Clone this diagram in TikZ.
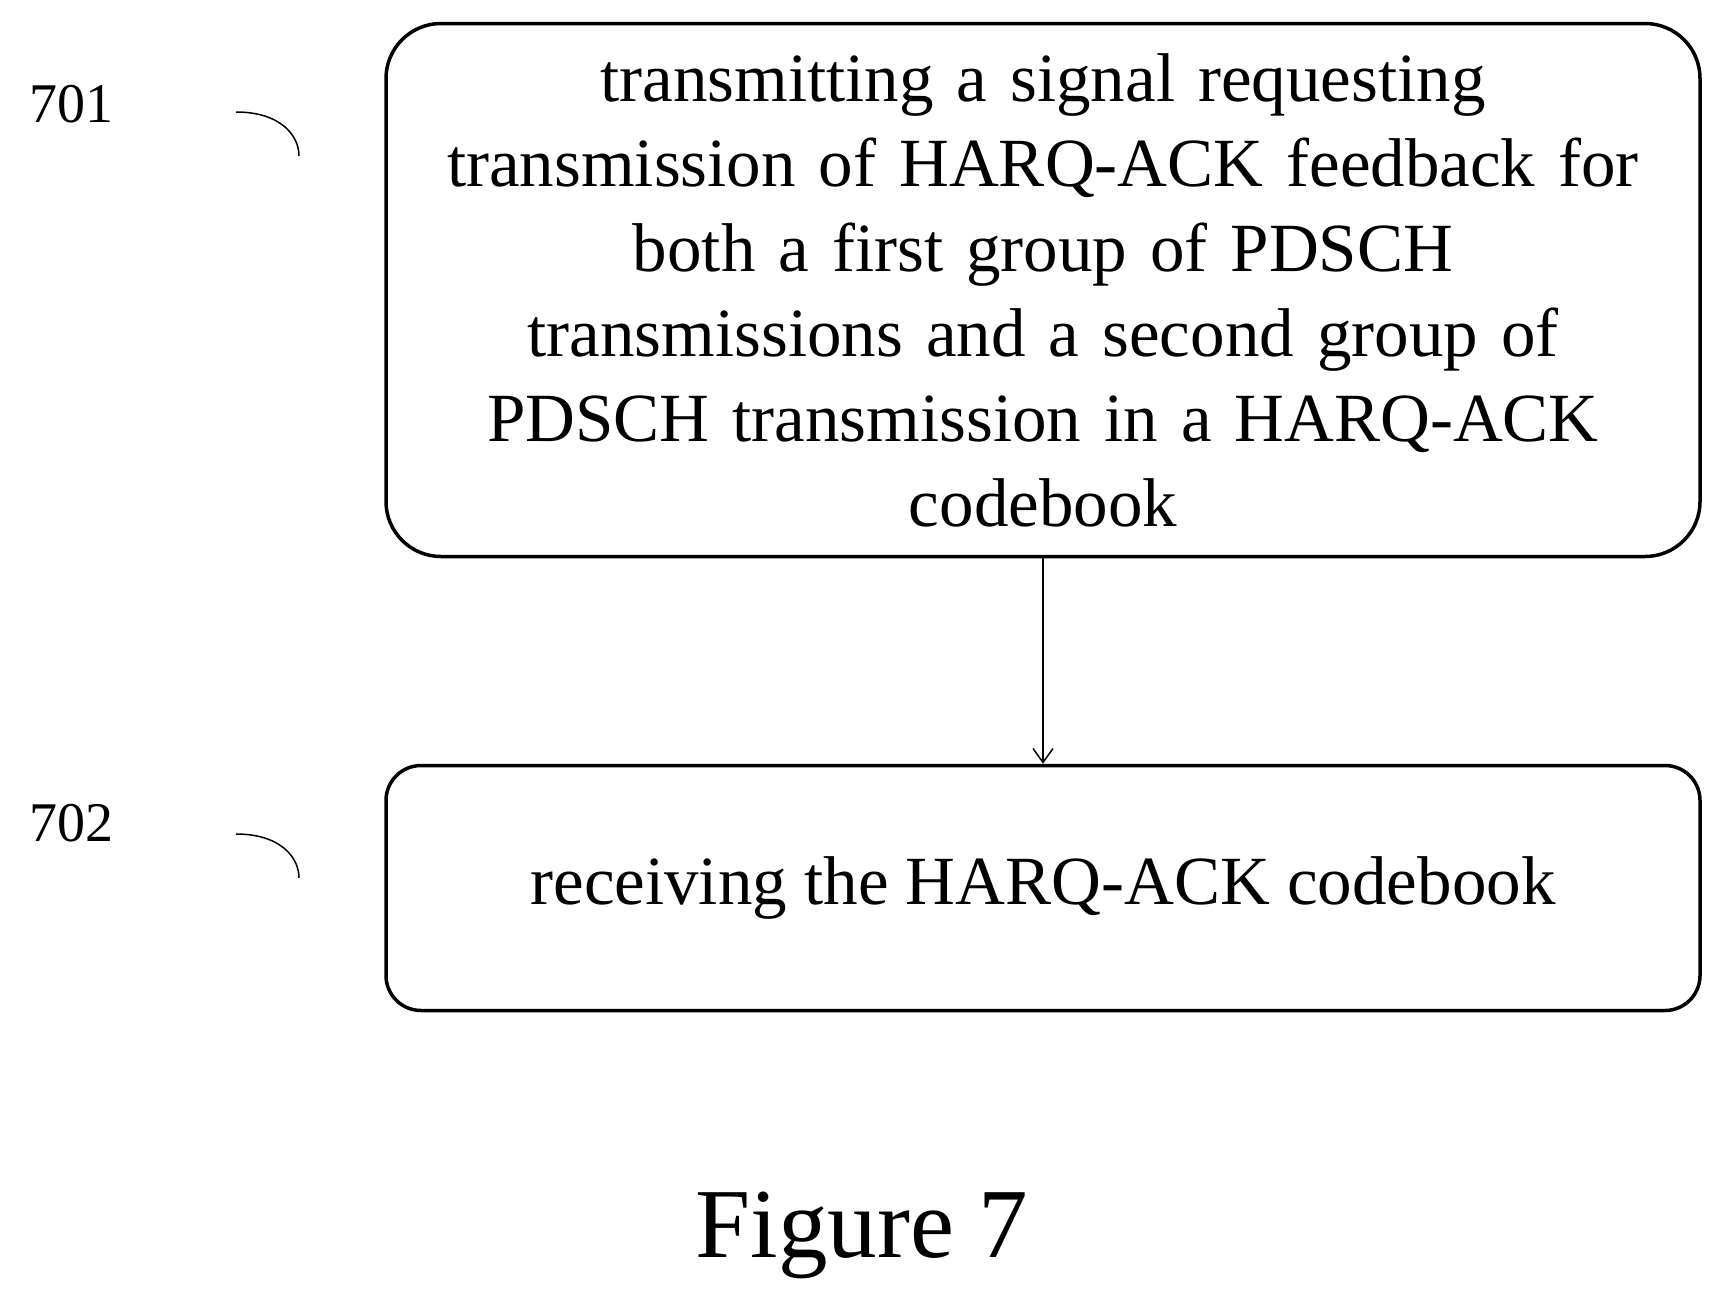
\documentclass[tikz,border=0pt]{standalone}
\usetikzlibrary{arrows.meta}
\usepackage{fontspec}
\setmainfont{Liberation Serif}
\begin{document}
\begin{tikzpicture}[x=1pt,y=-1pt,
  box/.style={draw,line width=3.5pt,rounded corners=55pt,align=center,font=\fontsize{69}{85}\selectfont},
  lab/.style={font=\fontsize{56}{60}\selectfont},
  hook/.style={line width=1.5pt}]
\useasboundingbox (0,0) rectangle (1718,1309);
\node[box,minimum width=1314pt,minimum height=533pt,text width=1280pt] (b1) at (1043,290)
 {transmitting a signal requesting\\ transmission of HARQ-ACK feedback for\\ both a first group of PDSCH\\ transmissions and a second group of\\ PDSCH transmission in a HARQ-ACK\\ codebook};
\node[box,rounded corners=35pt,minimum width=1314pt,minimum height=245pt] (b2) at (1043,888) {receiving the HARQ-ACK codebook};
\draw[line width=1.5pt,-{Straight Barb[length=14pt,width=20pt]}] (b1.south) -- (b2.north);
\node[lab] (l1) at (71,104) {701};
\node[lab] (l2) at (71,823) {702};
\coordinate (h1a) at (236,112); \coordinate (h1b) at (299,156);
\coordinate (h2a) at (236,834); \coordinate (h2b) at (299,878);
\draw[hook] (h1a) .. controls (280,112) and (299,135) .. (h1b);
\draw[hook] (h2a) .. controls (280,834) and (299,857) .. (h2b);
\node[font=\fontsize{99}{104}\selectfont] (fig) at (862,1235) {Figure 7};
\end{tikzpicture}
\end{document}
